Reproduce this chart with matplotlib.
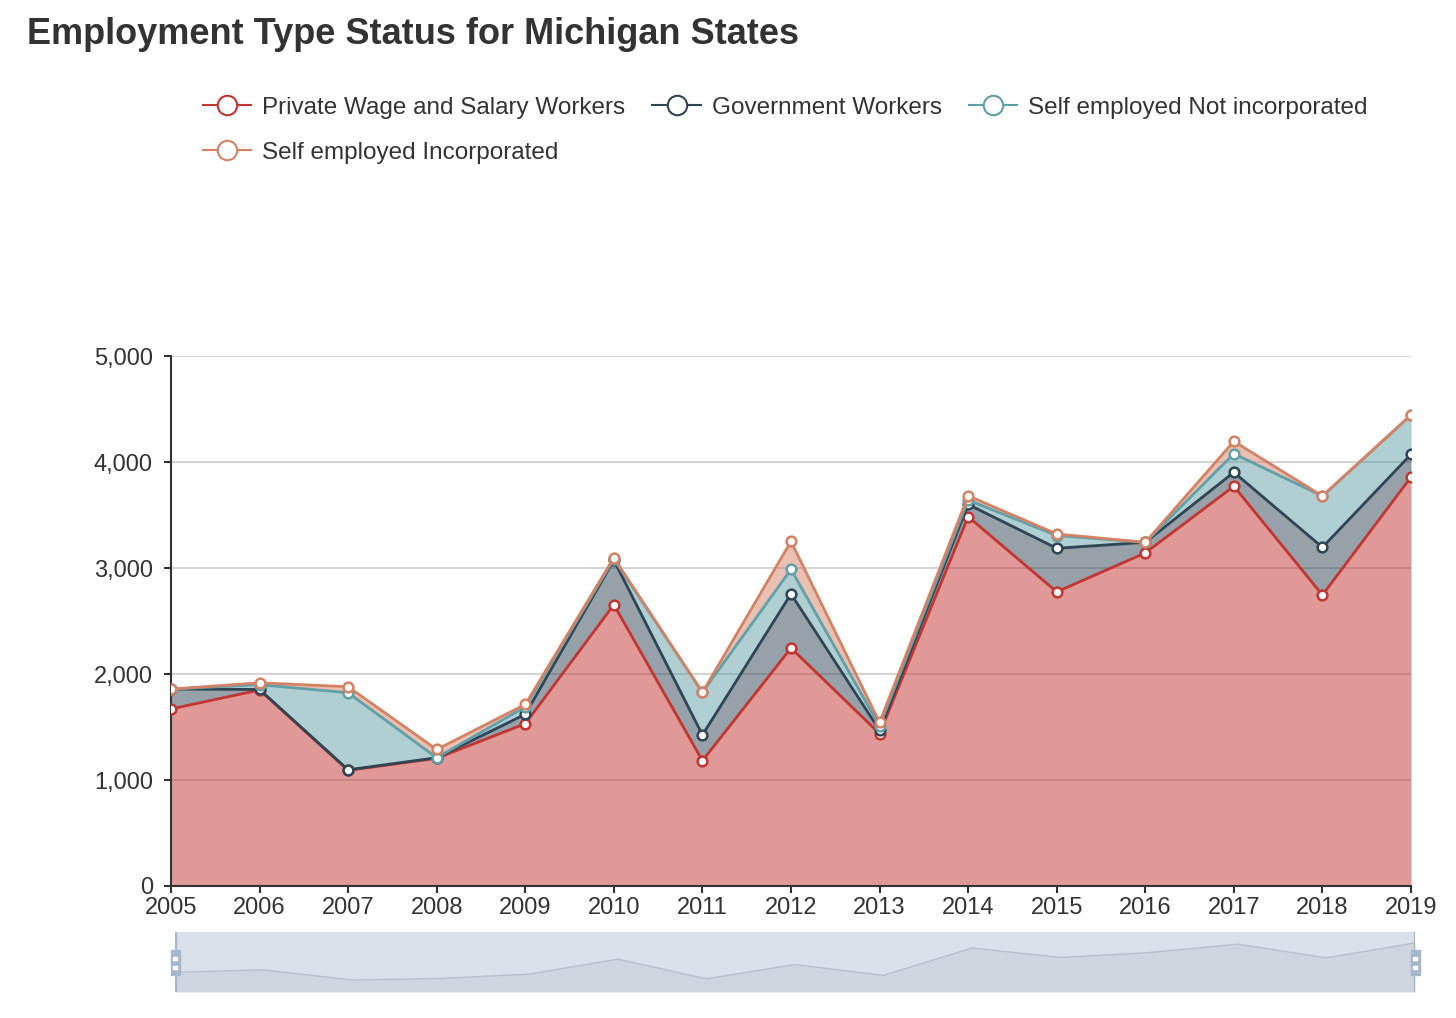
import matplotlib.pyplot as plt
from matplotlib.lines import Line2D
from matplotlib.patches import Rectangle
from matplotlib.ticker import FuncFormatter
import numpy as np

years = [2005, 2006, 2007, 2008, 2009, 2010, 2011, 2012, 2013, 2014,
         2015, 2016, 2017, 2018, 2019]
private = [1670, 1849, 1091, 1205, 1531, 2654, 1182, 2245, 1437, 3484,
           2775, 3142, 3771, 2745, 3858]
government = [188, 5, 5, 5, 89, 420, 243, 510, 32, 116,
              411, 100, 132, 450, 214]
self_not_inc = [0, 45, 727, 0, 70, 10, 402, 232, 40, 40,
                120, 0, 175, 484, 371]
self_inc = [0, 18, 57, 78, 23, 13, 0, 264, 34, 41,
            15, 0, 117, 0, 0]

names = ["Private Wage and Salary Workers", "Government Workers",
         "Self employed Not incorporated", "Self employed Incorporated"]
colors = ["#c23531", "#2f4554", "#61a0a8", "#d48265"]

plt.rcParams['font.family'] = ['Liberation Sans', 'DejaVu Sans']

fig = plt.figure(figsize=(14.56, 10.18), dpi=100)
ax = fig.add_axes([171 / 1456, 1 - 886 / 1018, 1240 / 1456, 530 / 1018])

series = [private, government, self_not_inc, self_inc]
x = np.arange(len(years))
base = np.zeros(len(years))
tops = []
for vals, c in zip(series, colors):
    top = base + np.array(vals)
    ax.fill_between(x, base, top, color=c, alpha=0.5, lw=0, zorder=2)
    tops.append(top)
    base = top
for top, c in zip(tops, colors):
    ax.plot(x, top, color=c, lw=2, zorder=3, marker='o', markersize=7,
            markerfacecolor='white', markeredgecolor=c, markeredgewidth=1.8)

ax.set_xlim(0, len(years) - 1)
ax.set_ylim(0, 5000)
ax.set_yticks(range(0, 5001, 1000))
ax.yaxis.set_major_formatter(FuncFormatter(lambda v, p: f"{int(v):,}"))
ax.set_xticks(x)
ax.set_xticklabels([str(y) for y in years])
ax.grid(axis='y', color='#cccccc', lw=1.2, zorder=0)
for s in ['top', 'right']:
    ax.spines[s].set_visible(False)
for s in ['left', 'bottom']:
    ax.spines[s].set_color('#333333')
    ax.spines[s].set_linewidth(1.5)
ax.tick_params(colors='#333333', labelsize=17, length=5, width=1.5)
ax.tick_params(axis='x', pad=3)
ax.tick_params(axis='y', pad=8)

fig.text(27 / 1456, 1 - 35 / 1018, "Employment Type Status for Michigan States",
         fontsize=26, fontweight='bold', color='#333333', va='center')

# legend, reordered so that it fills row by row
order = [0, 3, 1, 2]
handles = [Line2D([0], [0], color=colors[i], lw=1.5, marker='o', markersize=14,
                  markerfacecolor='white', markeredgecolor=colors[i],
                  markeredgewidth=1.5) for i in order]
fig.legend(handles, [names[i] for i in order], ncol=3, loc='upper left',
           bbox_to_anchor=(181 / 1456, 1 - 75 / 1018), frameon=False,
           fontsize=17.5, handlelength=2.0, handletextpad=0.45,
           columnspacing=1.1, labelspacing=0.95, labelcolor='#333333')

# data zoom slider
lo, hi = 194, 4681
sax = fig.add_axes([175 / 1456, 1 - 992 / 1018, 1240 / 1456, 60 / 1018])
sax.set_facecolor('#dbe1ea')
sax.fill_between(x, lo, private, color='#cfd6e0', lw=0)
sax.plot(x, private, color='#b8bfcc', lw=1)
sax.set_xlim(0, len(years) - 1)
sax.set_ylim(lo, hi)
sax.set_xticks([])
sax.set_yticks([])
for s in sax.spines.values():
    s.set_visible(False)
px = (len(years) - 1) / 1240
py = (hi - lo) / 60
for xe in [0, len(years) - 1]:
    sax.axvline(xe, color='#a7b7cc', lw=2.5)
    sax.add_patch(Rectangle((xe - 4.5 * px, lo + 17 * py), 9 * px, 25 * py,
                            color='#a7b7cc', clip_on=False, zorder=5))
    for dy in [25, 34]:
        sax.add_patch(Rectangle((xe - 2 * px, lo + (dy - 1.5) * py), 4 * px,
                                3 * py, color='white', clip_on=False, zorder=6))

fig.savefig("out.png", dpi=100, facecolor='white')
